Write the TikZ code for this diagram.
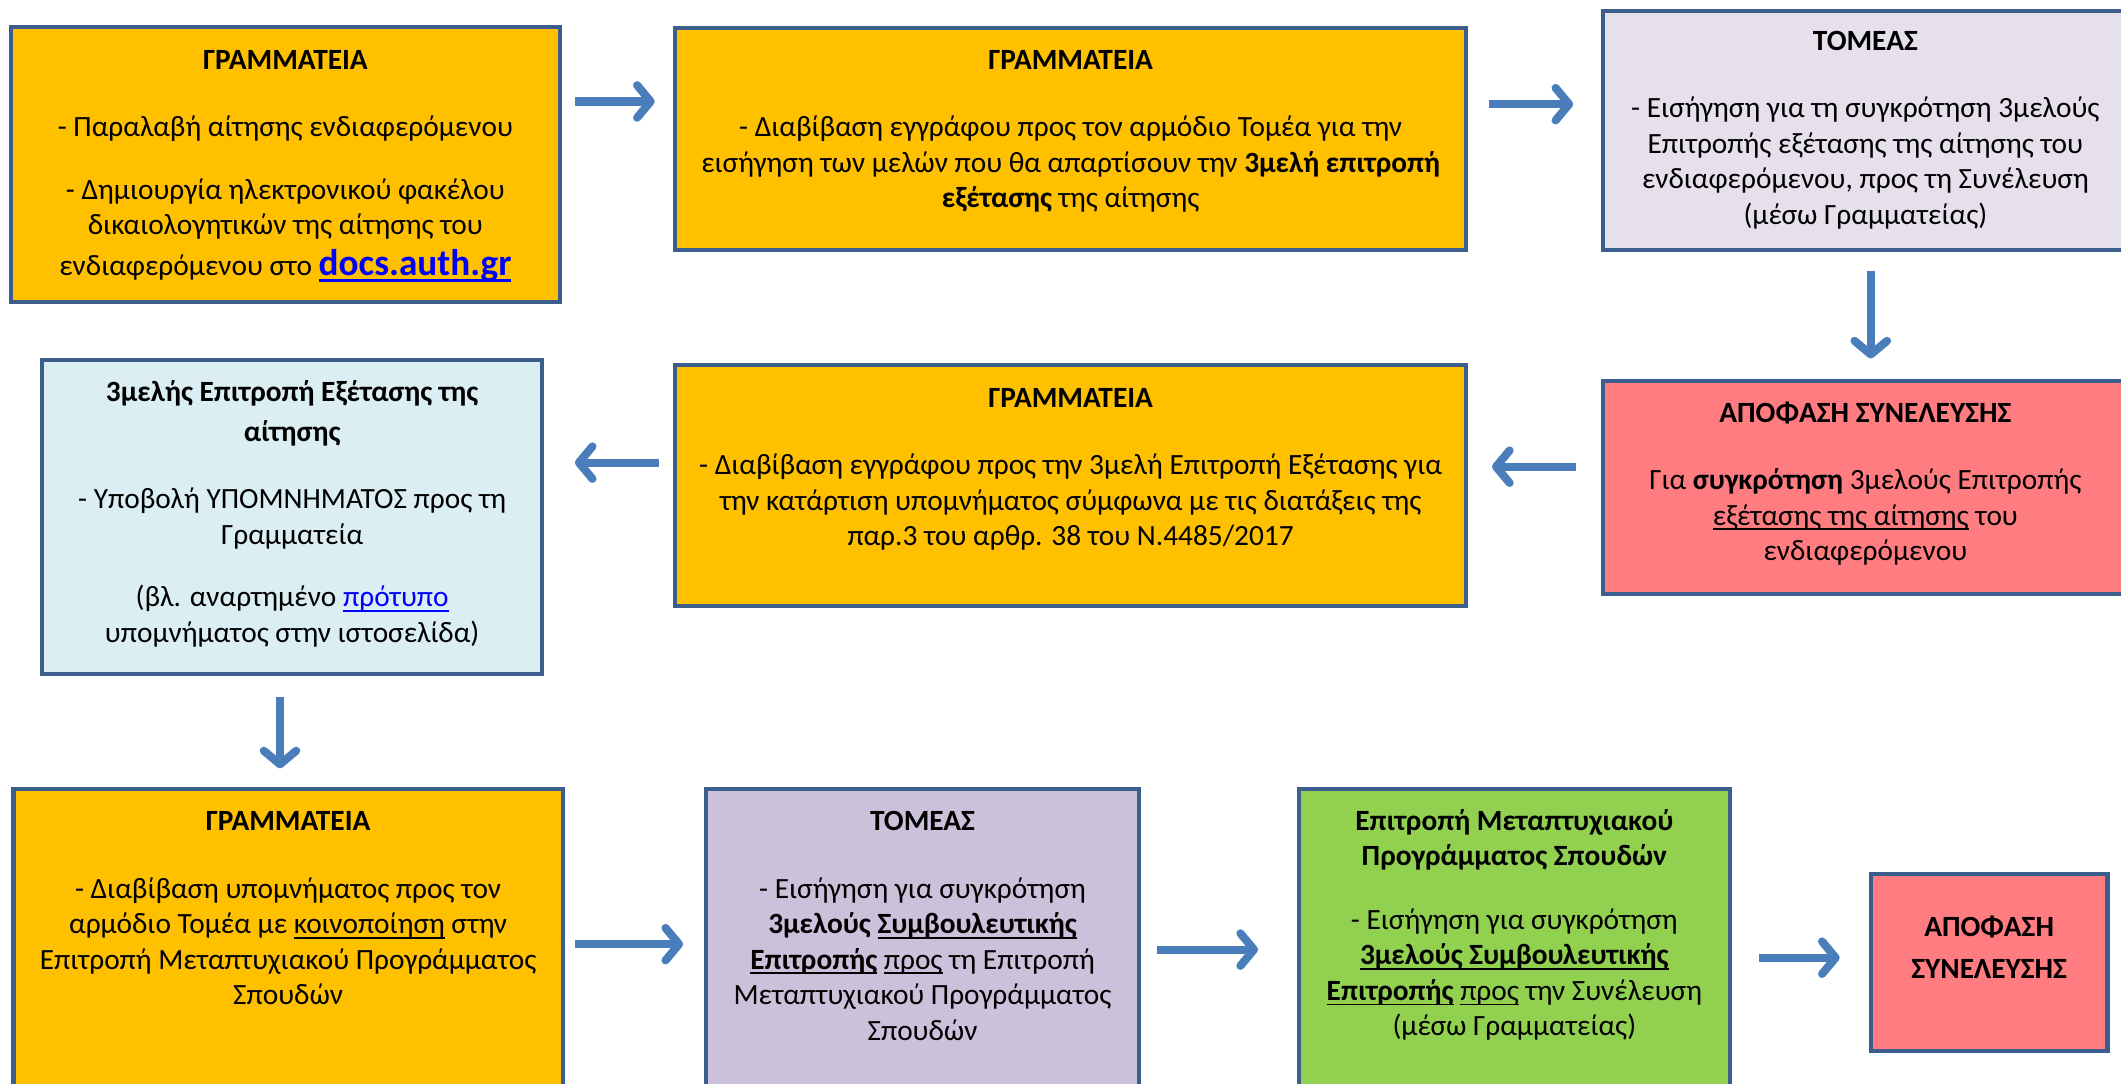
\documentclass[tikz,border=0pt]{standalone}
\usepackage{fontspec}
\setmainfont{Carlito}
\usetikzlibrary{arrows.meta}
\definecolor{bord}{HTML}{3B5E8C}
\definecolor{arrc}{HTML}{4A7EBB}
\definecolor{orangebox}{HTML}{FFC000}
\definecolor{lavbox}{HTML}{E5E0EC}
\definecolor{salmonbox}{HTML}{FF7C80}
\definecolor{bluebox}{HTML}{DAEEF3}
\definecolor{purplebox}{HTML}{CCC1DA}
\definecolor{greenbox}{HTML}{92D050}
\definecolor{linkc}{HTML}{0000FF}
\newcommand\myul[2][1.4pt]{\setbox0\hbox{#2}\rlap{\vrule height -2.4pt depth \dimexpr2.4pt+#1\relax width \wd0}\box0\relax}
\tikzset{
  box/.style={draw=bord, line width=3pt, inner sep=0pt, rectangle},
  txt/.style={anchor=north, align=center, inner sep=0pt, font=\fontsize{21.7}{26.3}\selectfont},
  arr/.style={draw=arrc, line width=6pt, -{Straight Barb[length=10pt,width=24pt,round]}},
}
\begin{document}
\begin{tikzpicture}[x=1pt,y=-1pt]
\useasboundingbox (0,0) rectangle (1568,801);
\clip (0,0) rectangle (1568,801);
% boxes
\node[box, fill=orangebox, minimum width=406pt, minimum height=203pt] (b1) at (211,121.5) {};
\node[box, fill=orangebox, minimum width=585pt, minimum height=164pt] (b2) at (791.5,103) {};
\node[box, fill=lavbox, minimum width=388pt, minimum height=177pt] (b3) at (1379,96.5) {};
\node[box, fill=salmonbox, minimum width=388pt, minimum height=157pt] (b4) at (1379,360.5) {};
\node[box, fill=orangebox, minimum width=585pt, minimum height=178pt] (b5) at (791.5,359) {};
\node[box, fill=bluebox, minimum width=370pt, minimum height=232pt] (b6) at (216,382) {};
\node[box, fill=orangebox, minimum width=406pt, minimum height=247pt] (b7) at (213,706.5) {};
\node[box, fill=purplebox, minimum width=320pt, minimum height=247pt] (b8) at (682,706.5) {};
\node[box, fill=greenbox, minimum width=319pt, minimum height=247pt] (b9) at (1119.5,706.5) {};
\node[box, fill=salmonbox, minimum width=175pt, minimum height=131pt] (b10) at (1470.5,711.5) {};
% texts
\node[txt] (t1) at (211,33) {\strut\textbf{ΓΡΑΜΜΑΤΕΙΑ}\\[23pt]
 - Παραλαβή αίτησης ενδιαφερόμενου\\[20pt]
 - Δημιουργία ηλεκτρονικού φακέλου\\
 δικαιολογητικών της αίτησης του\\[4pt]
 ενδιαφερόμενου στο \textcolor{linkc}{\myul[2pt]{\fontsize{27.5}{26.3}\selectfont\bfseries docs.auth.gr}}};
\node[txt] (t2) at (791.5,33) {\strut\textbf{ΓΡΑΜΜΑΤΕΙΑ}\\[23pt]
 - Διαβίβαση εγγράφου προς τον αρμόδιο Τομέα για την\\
 εισήγηση των μελών που θα απαρτίσουν την \textbf{3μελή επιτροπή}\\
 \textbf{εξέτασης} της αίτησης};
\node[txt] (t3) at (1379,19) {\strut\textbf{ΤΟΜΕΑΣ}\\[23pt]
 - Εισήγηση για τη συγκρότηση 3μελούς\\
 Επιτροπής εξέτασης της αίτησης του\\
 ενδιαφερόμενου, προς τη Συνέλευση\\
 (μέσω Γραμματείας)};
\node[txt] (t4) at (1379,294) {\strut\textbf{ΑΠΟΦΑΣΗ ΣΥΝΕΛΕΥΣΗΣ}\\[23pt]
 Για \textbf{συγκρότηση} 3μελούς Επιτροπής\\
 \myul{εξέτασης της αίτησης} του\\
 ενδιαφερόμενου};
\node[txt] (t5) at (791.5,283) {\strut\textbf{ΓΡΑΜΜΑΤΕΙΑ}\\[23pt]
 - Διαβίβαση εγγράφου προς την 3μελή Επιτροπή Εξέτασης για\\
 την κατάρτιση υπομνήματος σύμφωνα με τις διατάξεις της\\
 παρ.3 του αρθρ. 38 του Ν.4485/2017};
\node[txt] (t6) at (216,278) {\strut\textbf{3μελής Επιτροπή Εξέτασης της}\\[3.7pt]
 \textbf{αίτησης}\\[23pt]
 - Υποβολή ΥΠΟΜΝΗΜΑΤΟΣ προς τη\\
 Γραμματεία\\[20pt]
 (βλ. αναρτημένο \textcolor{linkc}{\myul{πρότυπο}}\\
 υπομνήματος στην ιστοσελίδα)};
\node[txt] (t7) at (213,595) {\strut\textbf{ΓΡΑΜΜΑΤΕΙΑ}\\[24pt]
 - Διαβίβαση υπομνήματος προς τον\\
 αρμόδιο Τομέα με \myul{κοινοποίηση} στην\\
 Επιτροπή Μεταπτυχιακού Προγράμματος\\
 Σπουδών};
\node[txt] (t8) at (682,595) {\strut\textbf{ΤΟΜΕΑΣ}\\[24pt]
 - Εισήγηση για συγκρότηση\\
 \textbf{3μελούς \myul{Συμβουλευτικής}}\\
 \myul{\textbf{Επιτροπής}} \myul{προς} τη Επιτροπή\\
 Μεταπτυχιακού Προγράμματος\\
 Σπουδών};
\node[txt] (t9) at (1119.5,595) {\strut\textbf{Επιτροπή Μεταπτυχιακού}\\
 \textbf{Προγράμματος Σπουδών}\\[20.7pt]
 - Εισήγηση για συγκρότηση\\
 \myul{\textbf{3μελούς Συμβουλευτικής}}\\
 \myul{\textbf{Επιτροπής}} \myul{προς} την Συνέλευση\\
 (μέσω Γραμματείας)};
\node[txt] (t10) at (1470.5,674) {\strut\textbf{ΑΠΟΦΑΣΗ}\\[4.7pt]
 \textbf{ΣΥΝΕΛΕΥΣΗΣ}};
% arrow guide coordinates
\coordinate (ya1) at (0,75);
\coordinate (ya2) at (0,77);
\coordinate (xa3) at (1383,0);
\coordinate (ya4) at (0,345);
\coordinate (ya5) at (0,342);
\coordinate (xa6) at (207,0);
\coordinate (ya7) at (0,698);
\coordinate (ya8) at (0,702);
\coordinate (ya9) at (0,708);
% arrows
\draw[arr, shorten <=9.5pt, shorten >=13.5pt] (b1.east |- ya1) -- (b2.west |- ya1);
\draw[arr, shorten <=15.5pt, shorten >=20.5pt] (b2.east |- ya2) -- (b3.west |- ya2);
\draw[arr, shorten <=13.5pt, shorten >=15.5pt] (b3.south -| xa3) -- (b4.north -| xa3);
\draw[arr, shorten <=18.5pt, shorten >=17.5pt] (b4.west |- ya4) -- (b5.east |- ya4);
\draw[arr, shorten <=10.5pt, shorten >=22.5pt] (b5.west |- ya5) -- (b6.east |- ya5);
\draw[arr, shorten <=15.5pt, shorten >=13.5pt] (b6.south -| xa6) -- (b7.north -| xa6);
\draw[arr, shorten <=7.5pt, shorten >=15.5pt] (b7.east |- ya7) -- (b8.west |- ya7);
\draw[arr, shorten <=11.5pt, shorten >=28.5pt] (b8.east |- ya8) -- (b9.west |- ya8);
\draw[arr, shorten <=19.5pt, shorten >=21.5pt] (b9.east |- ya9) -- (b10.west |- ya9);
\end{tikzpicture}
\end{document}
